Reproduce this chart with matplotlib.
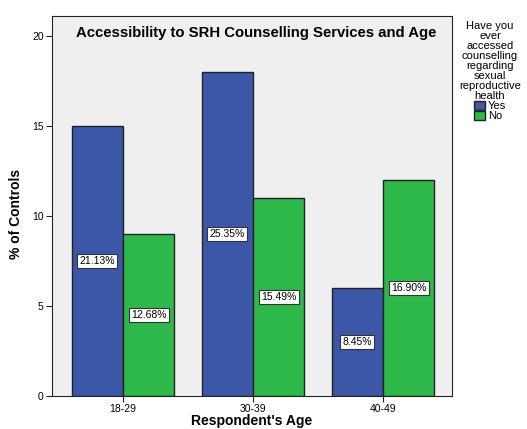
import numpy as np
import matplotlib
matplotlib.use("Agg")
from matplotlib import pyplot as plt
from matplotlib.patches import Patch

# Données
ages = ["18-29", "30-39", "40-49"]
yes_values = [15, 18, 6]
no_values = [9, 11, 12]
yes_labels = ["21.13%", "25.35%", "8.45%"]
no_labels = ["12.68%", "15.49%", "16.90%"]

yes_color = "#3d57a8"
no_color = "#2eb84a"

plt.rcParams["font.family"] = ["Liberation Sans", "DejaVu Sans"]

fig = plt.figure(figsize=(5.27, 4.29), dpi=100)
ax = fig.add_axes([52 / 527, 33 / 429, 400 / 527, 380 / 429])
ax.set_facecolor("#efefef")

x = np.arange(len(ages))
width = 0.395
bars_yes = ax.bar(x - width / 2, yes_values, width, color=yes_color, edgecolor="#222222", linewidth=1)
bars_no = ax.bar(x + width / 2, no_values, width, color=no_color, edgecolor="#222222", linewidth=1)

box = dict(boxstyle="square,pad=0.22", facecolor="white", edgecolor="#333333", linewidth=0.8)
for bar, lab in zip(bars_yes, yes_labels):
    ax.text(bar.get_x() + bar.get_width() / 2, bar.get_height() / 2, lab,
            ha="center", va="center", fontsize=7.5, bbox=box)
for bar, lab in zip(bars_no, no_labels):
    ax.text(bar.get_x() + bar.get_width() / 2, bar.get_height() / 2, lab,
            ha="center", va="center", fontsize=7.5, bbox=box)

ax.set_xlim(-0.546, 2.53)
ax.set_ylim(0, 21.1)
ax.set_yticks([0, 5, 10, 15, 20])
ax.set_xticks(x)
ax.set_xticklabels(ages)
ax.tick_params(labelsize=7.5, length=4, color="#222222", pad=2)
for s in ax.spines.values():
    s.set_color("#222222")

ax.text(0.51, 1 - 17 / 380, "Accessibility to SRH Counselling Services and Age",
        transform=ax.transAxes, ha="center", va="center", fontsize=10.7, fontweight="bold")
ax.set_xlabel("Respondent's Age", fontsize=10, fontweight="bold", va="center")
ax.xaxis.set_label_coords(0.5, -25 / 380)
ax.set_ylabel("% of Controls", fontsize=10, fontweight="bold", va="center")
ax.yaxis.set_label_coords(-36 / 400, 0.48)

# Légende
handles = [Patch(facecolor=yes_color, edgecolor="#222222"), Patch(facecolor=no_color, edgecolor="#222222")]
leg = fig.legend(handles, ["Yes", "No"],
                 title="Have you\never\naccessed\ncounselling\nregarding\nsexual\nreproductive\nhealth",
                 loc="upper center", bbox_to_anchor=(490 / 527, 1 - 21 / 429),
                 frameon=False, fontsize=8, title_fontsize=8,
                 handlelength=1.0, handleheight=0.8, handletextpad=0.3,
                 labelspacing=0.0, borderaxespad=0, borderpad=0)
leg.get_title().set_multialignment("center")
leg.get_title().set_linespacing(1.0)

plt.savefig("out.png", dpi=100)
